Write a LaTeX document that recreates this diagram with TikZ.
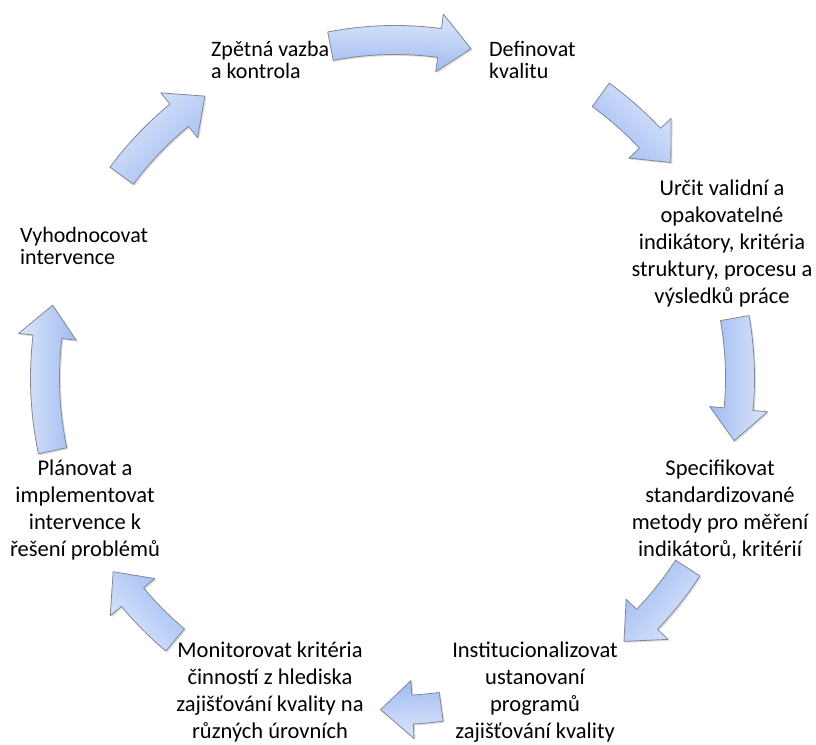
\documentclass[tikz,border=0pt]{standalone}
\usepackage{fontspec}
\setmainfont{Carlito}
\usetikzlibrary{shadows}
\definecolor{arlight}{RGB}{220,230,251}
\definecolor{ardark}{RGB}{160,187,241}
\definecolor{arline}{RGB}{130,135,150}
\tikzset{
  cyc/.style={draw=arline, line width=0.8pt, line join=round,
    left color=arlight, right color=ardark,
    drop shadow={opacity=0.25, shadow xshift=1.5pt, shadow yshift=-1.5pt}},
  lbl/.style={font=\fontsize{22.5}{27}\selectfont, inner sep=0pt, text=black},
  lblsm/.style={font=\fontsize{22}{22}\selectfont, inner sep=0pt, text=black, align=left}
}
% #1 start angle, #2 tip angle, #3 radius
\newcommand\cyclearrow[3]{%
  \pgfmathsetmacro\hb{#2+sign(#1-#2)*32/#3*57.2958}%
  \pgfmathsetmacro\sa{(#1+#2)/2-90}%
  \path[cyc, shading angle=\sa]
    ({#1}:{#3+14.5}) arc[start angle={#1}, end angle=\hb, radius={#3+14.5}]
    -- (\hb:{#3+29}) -- ({#2}:{#3}) -- (\hb:{#3-29}) -- (\hb:{#3-14.5})
    arc[start angle=\hb, end angle={#1}, radius={#3-14.5}] -- cycle;
}
\begin{document}
\begin{tikzpicture}[x=1pt,y=1pt]
\useasboundingbox (0,0) rectangle (816,744);
\fill[white] (0,0) rectangle (816,744);
\begin{scope}[shift={(395,366)}]
  \cyclearrow{101}{77}{338}
  \cyclearrow{54}{38}{350}
  \cyclearrow{10}{-10.5}{345}
  \cyclearrow{-33}{-49}{349}
  \cyclearrow{-82}{-92.5}{332}
  \cyclearrow{-130}{-145.5}{342}
  \cyclearrow{-168}{-192}{350}
  \cyclearrow{143.5}{124}{340}
\end{scope}
\node[lblsm, anchor=west] (zpet) at (211,684) {Zpětná vazba\\a kontrola};
\node[lblsm, anchor=west] (def) at (489,684) {Definovat\\kvalitu};
\node[lbl, align=center] (urc) at (722,500) {Určit validní a\\opakovatelné\\indikátory, kritéria\\struktury, procesu a\\výsledků práce};
\node[lbl, align=center] (spec) at (720,234) {Specifikovat\\standardizované\\metody pro měření\\indikátorů, kritérií};
\node[lbl, align=center] (inst) at (535,52) {Institucionalizovat\\ustanovaní\\programů\\zajišťování kvality};
\node[lbl, align=center] (mon) at (270,52) {Monitorovat kritéria\\činností z hlediska\\zajišťování kvality na\\různých úrovních};
\node[lbl, align=center] (plan) at (85,234) {Plánovat a\\implementovat\\intervence k\\řešení problémů};
\node[lblsm, anchor=west] (vyh) at (20,498) {Vyhodnocovat\\intervence};
\end{tikzpicture}
\end{document}
